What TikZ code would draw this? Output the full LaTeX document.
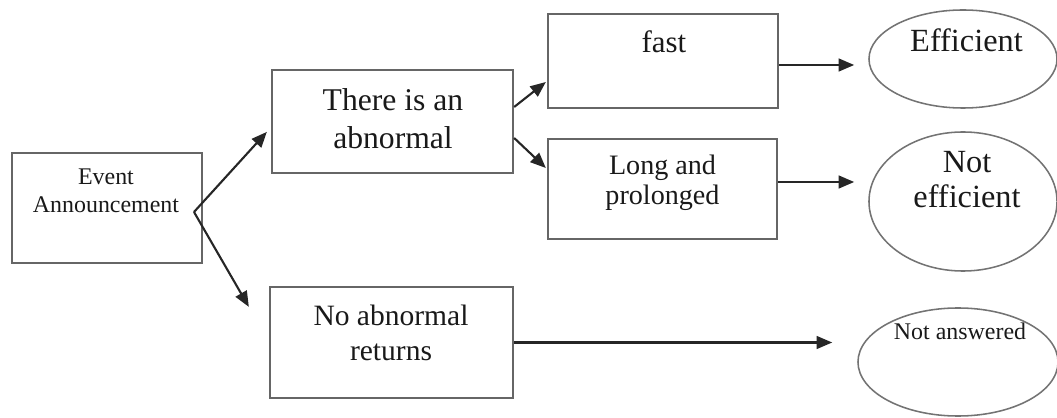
\documentclass[tikz,border=0pt]{standalone}
\usepackage{fontspec}
\setmainfont{Liberation Serif}
\usetikzlibrary{shapes.geometric,arrows.meta}

\begin{document}
\begin{tikzpicture}[x=0.025cm, y=-0.025cm]

    \tikzset{%
        box/.style={draw=black!60, line width=1.6pt, rectangle, inner sep=0pt},
        oval/.style={draw=black!55, line width=1.1pt, ellipse, inner sep=0pt},
        txt/.style={align=center, inner sep=0pt, text=black!90},
        link/.style={-{Triangle[length=11pt, width=9pt]}, line width=1.5pt, draw=black!85},
    }

    \useasboundingbox (0, 0) rectangle (1057, 418);
    \clip (0, 0) rectangle (1057, 418);

    % shapes
    \node [box, minimum width=4.75cm, minimum height=2.75cm] (ev) at (107, 208) {};
    \node [box, minimum width=6.025cm, minimum height=2.575cm] (ab) at (392.5, 121.5) {};
    \node [box, minimum width=5.75cm, minimum height=2.35cm] (fast) at (663, 61) {};
    \node [box, minimum width=5.725cm, minimum height=2.5cm] (long) at (662.5, 189) {};
    \node [box, minimum width=6.075cm, minimum height=2.775cm] (noab) at (391.5, 342.5) {};
    \node [oval, minimum width=4.7cm, minimum height=2.45cm] (eff) at (963, 59) {};
    \node [oval, minimum width=4.7cm, minimum height=3.475cm] (neff) at (963, 201.5) {};
    \node [oval, minimum width=5cm, minimum height=2.7cm] (nans) at (958, 362) {};

    % texts
    \node [txt, font=\fontsize{17}{20}\selectfont] (ev-t) at (106, 191) {Event\\Announcement};
    \node [txt, font=\fontsize{22.5}{27}\selectfont] (ab-t) at (393, 119) {There is an\\abnormal};
    \node [txt, font=\fontsize{22}{25}\selectfont, anchor=base] (fast-t) at (664, 53) {fast};
    \node [txt, font=\fontsize{20}{21}\selectfont] (long-t) at (662.5, 183) {Long and\\prolonged};
    \node [txt, font=\fontsize{21}{25}\selectfont] (noab-t) at (391, 332.5) {No abnormal\\returns};
    \node [txt, font=\fontsize{23}{25}\selectfont, anchor=base] (eff-t) at (966.5, 52) {Efficient};
    \node [txt, font=\fontsize{23}{25}\selectfont] (neff-t) at (967, 179.5) {Not\\efficient};
    \node [txt, font=\fontsize{17}{20}\selectfont, anchor=base] (nans-t) at (960, 340) {Not answered};

    % connectors
    \coordinate (fork) at (194, 212);
    \draw [link] (fork) -- ([xshift=-0.1cm, yshift=-0.26cm]ab.west);
    \draw [link] (fork) -- ([xshift=-0.5cm, yshift=-0.525cm]noab.north west);
    \draw [link] ([yshift=0.3625cm]ab.east) -- ([xshift=-0.025cm, yshift=-0.525cm]fast.west);
    \draw [link] ([yshift=-0.4125cm]ab.east) -- ([xshift=-0.025cm, yshift=0.525cm]long.west);
    \draw [link, shorten >=0.35cm] ([yshift=-0.1cm]fast.east) -- ([yshift=-0.1cm]fast.east -| eff.west);
    \draw [link, shorten >=0.35cm] ([yshift=0.175cm]long.east) -- ([yshift=0.175cm]long.east -| neff.west);
    \draw [link, shorten >=0.625cm] (noab.east) -- (noab.east -| nans.west);

\end{tikzpicture}
\end{document}
